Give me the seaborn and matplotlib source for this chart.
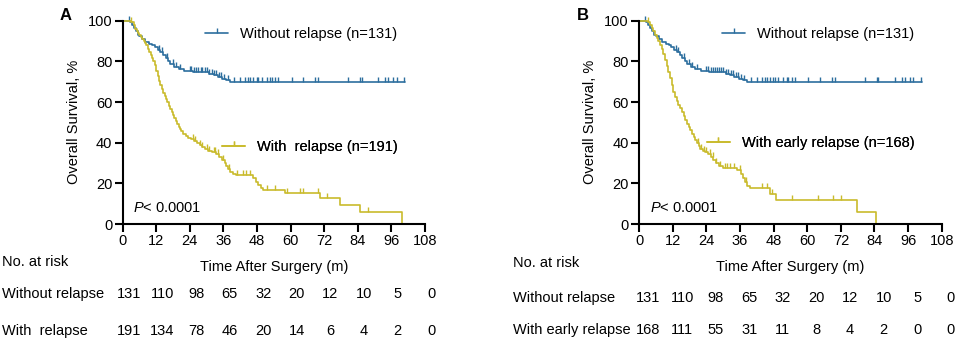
import numpy as np
import pandas as pd
import seaborn as sns
import matplotlib.pyplot as plt
from matplotlib.lines import Line2D
from matplotlib.transforms import blended_transform_factory

# Kaplan-Meier steps (months, % surviving)
no_relapse_t = [0, 2.5, 3.2, 3.9, 4.6, 5.3, 6.0, 7.0, 8.0, 9.5, 10.5, 11.5, 12.5, 13.5, 14.5,
                15.3, 16.3, 17.0, 18.5, 20.0, 22.0, 25.0, 31.0, 32.5, 34.0, 35.5, 37.0, 38.3, 101.0]
no_relapse_s = [100, 99.2, 97.7, 96.2, 94.7, 93.1, 92.4, 90.8, 89.3, 88.5, 87.8, 87.0, 85.5, 84.7, 83.2,
                81.7, 80.2, 78.6, 77.1, 76.3, 75.5, 74.7, 73.9, 73.1, 72.3, 71.5, 70.8, 70.0, 70.0]
no_relapse_cens = [2.2, 13.0, 14.0, 15.8, 17.8, 19.0, 20.5, 24.0, 24.5, 25.5, 26.2, 27.0, 27.8, 28.5,
                   29.3, 30.0, 31.0, 31.8, 32.6, 33.3, 34.5, 35.2, 36.3, 37.5, 39.8, 41.9, 43.7, 44.9,
                   45.5, 46.7, 47.9, 48.5, 49.6, 51.4, 52.6, 53.2, 54.4, 55.6, 60.4, 64.5, 68.7, 69.9,
                   80.6, 84.8, 85.4, 91.3, 93.8, 94.9, 96.7, 97.9, 100.5]

relapse_t = [0, 3.0, 4.0, 4.5, 5.0, 5.5, 6.0, 6.5, 7.0, 7.5, 8.0, 8.5, 9.0, 9.5, 10.0, 10.5, 11.0,
             11.5, 12.0, 12.5, 13.0, 13.5, 14.0, 14.5, 15.0, 15.5, 16.0, 16.5, 17.0, 17.5, 18.0,
             18.5, 19.0, 19.5, 20.0, 20.5, 21.0, 21.7, 22.5, 23.5, 24.5, 25.5, 26.5, 27.5, 28.5,
             29.5, 30.5, 32.0, 33.5, 34.5, 35.5, 36.5, 37.0, 37.8, 38.5, 39.5, 40.5, 46.5, 47.5,
             48.5, 49.3, 50.3, 58.0, 70.5, 77.7, 84.8, 99.8]
relapse_s = [100, 99.5, 98, 96, 95, 94, 93, 92, 91, 90, 89, 88, 86, 84.5, 83, 81.5, 80,
             78, 75.5, 73, 70.5, 68.5, 66.5, 64.5, 63, 61.5, 60, 58, 56.5, 55, 53.5,
             52, 50.5, 49, 47.8, 46.5, 45.5, 44.5, 43.5, 42.5, 41.8, 41, 40, 38.8, 37.8,
             36.8, 36, 35.2, 34.2, 33, 31.5, 30, 28.5, 27, 25.8, 24.8, 24, 22.5, 20.8,
             19.2, 17.6, 16.6, 15.3, 12.6, 9.3, 6.1, 0]
relapse_cens = [3.0, 25.0, 26.0, 27.5, 28.5, 30.0, 31.0, 32.5, 33.0, 34.0, 36.0, 38.0, 41.0, 43.0,
                44.0, 45.5, 51.4, 54.4, 58.6, 63.3, 64.5, 69.9, 72.9, 87.7]

early_t = [0, 3.0, 3.8, 4.4, 5.0, 5.6, 6.2, 6.8, 7.4, 8.0, 8.6, 9.2, 9.8, 10.4, 11.0, 11.6, 12.2,
           12.8, 13.4, 14.0, 14.6, 15.2, 15.8, 16.4, 17.0, 17.6, 18.2, 18.8, 19.4, 20.0, 20.6,
           21.2, 21.8, 22.6, 23.4, 24.5, 25.5, 26.5, 27.5, 28.5, 30.0, 35.0, 36.2, 37.0, 37.8,
           38.6, 39.5, 46.6, 49.0, 77.6, 84.4]
early_s = [100, 99.4, 98, 96.5, 95, 93, 91.5, 90, 88, 86, 83.5, 80.5, 77.5, 75, 72, 68.5, 65,
           62.5, 60.5, 58.5, 57, 55, 53, 51, 49, 47.5, 46, 44.5, 43, 41.3, 39.7,
           38.3, 37, 36, 35.2, 34.3, 33, 31.5, 30, 28.5, 27.4, 26.5, 24.5, 22.5, 20.5,
           18.5, 17.6, 14.7, 11.8, 5.9, 0]
early_cens = [3.0, 20.8, 22.0, 23.0, 24.0, 25.2, 26.2, 27.5, 29.0, 30.5, 31.5, 32.5, 33.8, 35.8,
              38.2, 43.7, 45.5, 47.3, 54.4, 63.9, 69.3, 72.2]

risk_times = [0, 12, 24, 36, 48, 60, 72, 84, 96, 108]
risk_no_relapse = [131, 110, 98, 65, 32, 20, 12, 10, 5, 0]
risk_relapse = [191, 134, 78, 46, 20, 14, 6, 4, 2, 0]
risk_early = [168, 111, 55, 31, 11, 8, 4, 2, 0, 0]

BLUE = '#2C6E9E'
YELLOW = '#C9BB2C'
FS = 10.5

sns.set_theme(style='ticks')
plt.rcParams['font.family'] = ['Liberation Sans', 'DejaVu Sans']
plt.rcParams['mathtext.fontset'] = 'custom'
plt.rcParams['mathtext.rm'] = 'Liberation Sans'
plt.rcParams['mathtext.it'] = 'Liberation Sans:italic'
for key in ['text.color', 'axes.labelcolor', 'xtick.color', 'ytick.color']:
    plt.rcParams[key] = 'black'

tick_marker = [(0, 0), (0, 1)]


def step_value(times, surv, t):
    i = np.searchsorted(times, t, side='right') - 1
    return np.asarray(surv)[i]


def draw_curve(ax, times, surv, cens, color):
    df = pd.DataFrame({'t': times, 's': surv})
    sns.lineplot(data=df, x='t', y='s', ax=ax, color=color, lw=1.2,
                 drawstyle='steps-post', estimator=None, errorbar=None, clip_on=False)
    cy = [step_value(times, surv, c) for c in cens]
    ax.plot(cens, cy, ls='none', marker=tick_marker, ms=7, mew=1.0,
            color=color, clip_on=False)


def add_legend(ax, label, color, x, y):
    h = Line2D([], [], color=color, lw=1.2, marker=tick_marker, ms=7, mew=1.0)
    leg = ax.legend(handles=[h], labels=[label], loc='center left', bbox_to_anchor=(x, y),
                    frameon=False, fontsize=FS, handlelength=1.6, handletextpad=0.8,
                    borderpad=0, borderaxespad=0, numpoints=1)
    ax.add_artist(leg)


fig = plt.figure(figsize=(9.57, 3.42), dpi=100)

panels = [
    dict(pos=[0.1282, 0.345, 0.3159, 0.5945], letter='A', letter_x=60,
         second=(relapse_t, relapse_s, relapse_cens), second_label='With  relapse (n=191)',
         leg1=(0.272, 0.935), leg2=(0.3285, 0.379), risk2=risk_relapse,
         risk_off=2.2, row_x=2, row_names=['Without relapse', 'With  relapse'],
         row_y=[0.234, 0.140, 0.032]),
    dict(pos=[0.668, 0.345, 0.316, 0.5945], letter='B', letter_x=577,
         second=(early_t, early_s, early_cens), second_label='With early relapse (n=168)',
         leg1=(0.2735, 0.935), leg2=(0.223, 0.398), risk2=risk_early,
         risk_off=3.3, row_x=513, row_names=['Without relapse', 'With early relapse'],
         row_y=[0.231, 0.129, 0.035]),
]

for p in panels:
    ax = fig.add_axes(p['pos'])
    draw_curve(ax, no_relapse_t, no_relapse_s, no_relapse_cens, BLUE)
    draw_curve(ax, *p['second'], YELLOW)

    ax.set_xlim(0, 108)
    ax.set_ylim(0, 100)
    ax.set_xticks(risk_times)
    ax.set_yticks(range(0, 101, 20))
    ax.tick_params(labelsize=FS, length=6, width=1.5, pad=1.5, color='black')
    for s in ['left', 'bottom']:
        ax.spines[s].set_linewidth(1.5)
        ax.spines[s].set_color('black')
    sns.despine(ax=ax)
    ax.set_xlabel('Time After Surgery (m)', fontsize=FS, labelpad=8)
    ax.set_ylabel('Overall Survival, %', fontsize=FS, labelpad=5)

    add_legend(ax, 'Without relapse (n=131)', BLUE, *p['leg1'])
    add_legend(ax, p['second_label'], YELLOW, *p['leg2'])

    ax.text(0.034, 0.079, r'$\it{P}$< 0.0001', transform=ax.transAxes,
            fontsize=FS, va='center', ha='left')

    fig.text(p['letter_x'] / 957, 1 - 15 / 342, p['letter'], fontsize=12,
             fontweight='bold', va='center', ha='left')

    # number-at-risk table
    fig.text(p['row_x'] / 957, p['row_y'][0], 'No. at risk', fontsize=FS, va='center')
    trans = blended_transform_factory(ax.transData, fig.transFigure)
    for name, counts, y in zip(p['row_names'], [risk_no_relapse, p['risk2']], p['row_y'][1:]):
        fig.text(p['row_x'] / 957, y, name, fontsize=FS, va='center')
        for t, n in zip(risk_times, counts):
            ax.text(t + p['risk_off'], y, str(n), transform=trans, fontsize=FS,
                    ha='center', va='center', clip_on=False)

fig.savefig('out.png', dpi=100)
